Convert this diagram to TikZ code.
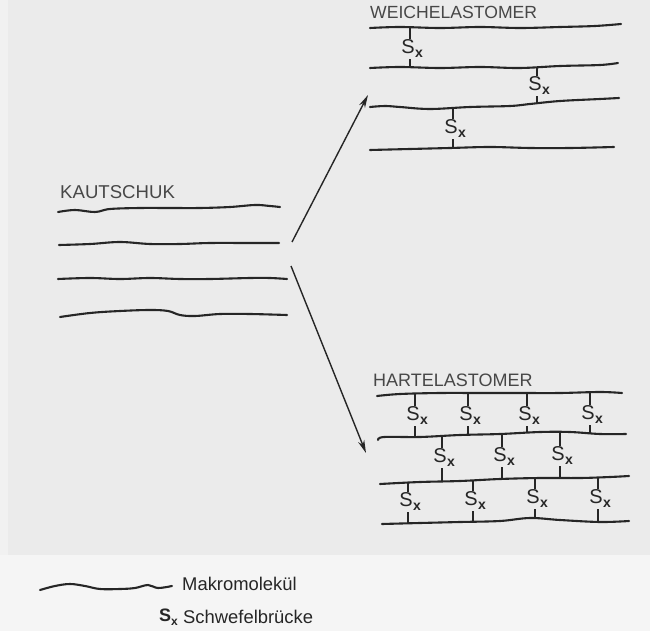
\documentclass[tikz,border=0pt]{standalone}
\usepackage{fontspec}
\setmainfont{Liberation Sans}
\usetikzlibrary{arrows.meta}
\definecolor{bg}{HTML}{EBEBEB}
\definecolor{bgl}{HTML}{F5F5F5}
\definecolor{bgm}{HTML}{F1F1F1}
\definecolor{ink}{HTML}{262626}
\definecolor{txt}{HTML}{474747}
\tikzset{
  chain/.style={draw=ink, line width=2.1pt, line cap=round, line join=round},
  title/.style={text=txt, font=\fontsize{17.6}{17.6}\selectfont, anchor=west, inner sep=0pt},
  sx/.style={text=ink, font=\fontsize{20}{20}\selectfont, inner sep=1.5pt, outer sep=0pt},
  tick/.style={draw=ink, line width=1.7pt},
  arr/.style={draw=ink, line width=1.4pt, -{Stealth[length=13pt,width=6.5pt]}},
  leg/.style={text=ink, font=\fontsize{18.4}{18.4}\selectfont, anchor=west, inner sep=0pt},
}
\newcommand{\Sxmark}{S\rlap{\kern0.5pt\raisebox{-4pt}{\fontsize{14}{14}\selectfont\bfseries x}}}
% name, x, ytop, ycenter, ybottom
\newcommand{\bridge}[5]{%
  \coordinate (#1a) at (#2,#3);
  \coordinate (#1b) at (#2,#5);
  \node[sx] (#1) at (#2-2,#4) {\Sxmark};
  \draw[tick] (#1a) -- (#1.north -| #1a);
  \draw[tick] (#1.south -| #1b) -- (#1b);
}
\begin{document}
\begin{tikzpicture}[x=1pt,y=-1pt]
\useasboundingbox (0,0) rectangle (650,631);
\fill[bg] (0,0) rectangle (650,555);
\fill[bgm] (0,0) rectangle (8,555);
\fill[bgl] (0,555) rectangle (650,631);

% ---------- KAUTSCHUK ----------
\node[title, font=\fontsize{18.6}{18.6}\selectfont] (kt) at (60,192) {KAUTSCHUK};
\draw[chain] plot[smooth, tension=0.6] coordinates {(58,212) (75,210) (95,212) (110,209) (140,208) (170,208) (200,208) (230,207) (255,205) (270,206) (280,207)};
\draw[chain] plot[smooth, tension=0.6] coordinates {(59,245) (90,244) (120,242) (150,244) (180,244) (210,243) (250,243) (279,243)};
\draw[chain] plot[smooth, tension=0.6] coordinates {(58,279) (90,278) (120,279) (150,278) (180,279) (210,279) (250,278) (270,278) (287,279)};
\draw[chain] plot[smooth, tension=0.6] coordinates {(60,317) (90,313) (120,311) (150,310) (168,311) (180,315) (195,316) (220,314) (250,314) (287,315)};

\coordinate (kup) at (292,242);
\coordinate (kdn) at (291,266);

% ---------- WEICHELASTOMER ----------
\node[title] (wt) at (370,12) {WEICHELASTOMER};
\draw[chain] plot[smooth, tension=0.6] coordinates {(370,28) (400,27) (440,28) (480,27) (520,28) (560,27) (595,26) (621,24)};
\draw[chain] plot[smooth, tension=0.6] coordinates {(370,68) (400,67) (440,68) (480,67) (520,68) (560,66) (600,65) (618,63)};
\draw[chain] plot[smooth, tension=0.6] coordinates {(370,107) (385,106) (400,107) (430,109) (470,107) (510,106) (530,104) (560,101) (600,99) (619,98)};
\draw[chain] plot[smooth, tension=0.6] coordinates {(370,150) (410,149) (450,148) (490,147) (530,148) (570,148) (614,147)};

\bridge{w1}{410}{28}{49}{68}
\bridge{w2}{537}{67}{86}{104}
\bridge{w3}{453}{108}{129}{148}

\coordinate (wend) at (368,95);

% ---------- HARTELASTOMER ----------
\node[title, font=\fontsize{18}{18}\selectfont] (ht) at (373,380) {HARTELASTOMER};
\draw[chain] plot[smooth, tension=0.6] coordinates {(377,396) (400,394) (440,393) (480,393) (520,393) (560,393) (600,392) (622,393)};
\draw[chain] plot[smooth, tension=0.6] coordinates {(378,440) (384,437) (420,437) (460,435) (500,434) (540,432) (570,432) (600,434) (626,434)};
\draw[chain] plot[smooth, tension=0.6] coordinates {(380,484) (420,482) (460,481) (500,479) (540,478) (580,478) (610,477) (629,476)};
\draw[chain] plot[smooth, tension=0.6] coordinates {(382,524) (420,523) (460,522) (500,521) (530,518) (560,520) (600,522) (629,521)};

\bridge{h1}{415}{394}{416}{437}
\bridge{h2}{468}{393}{416}{435}
\bridge{h3}{527}{393}{416}{433}
\bridge{h4}{590}{392}{415}{434}
\bridge{h5}{442}{436}{458}{481}
\bridge{h6}{502}{434}{457}{479}
\bridge{h7}{560}{432}{456}{478}
\bridge{h8}{408}{483}{502}{523}
\bridge{h9}{473}{480}{501}{522}
\bridge{h10}{535}{478}{499}{519}
\bridge{h11}{598}{477}{499}{522}

\coordinate (hend) at (366,453);

% ---------- arrows ----------
\draw[arr] (kup) -- (wend);
\draw[arr] (kdn) -- (hend);

% ---------- legend ----------
\draw[chain] plot[smooth, tension=0.6] coordinates {(40,590) (55,586) (70,584) (85,586) (100,589) (120,589) (135,588) (148,585) (158,588) (172,586)};
\node[leg] (lm) at (182,584) {Makromolekül};
\node[text=ink, font=\fontsize{18}{18}\selectfont\bfseries, inner sep=0pt, anchor=west] (ls) at (159,617) {S\raisebox{-4pt}{\fontsize{12}{12}\selectfont x}};
\node[leg] (lb) at (183,617) {Schwefelbrücke};
\end{tikzpicture}
\end{document}
